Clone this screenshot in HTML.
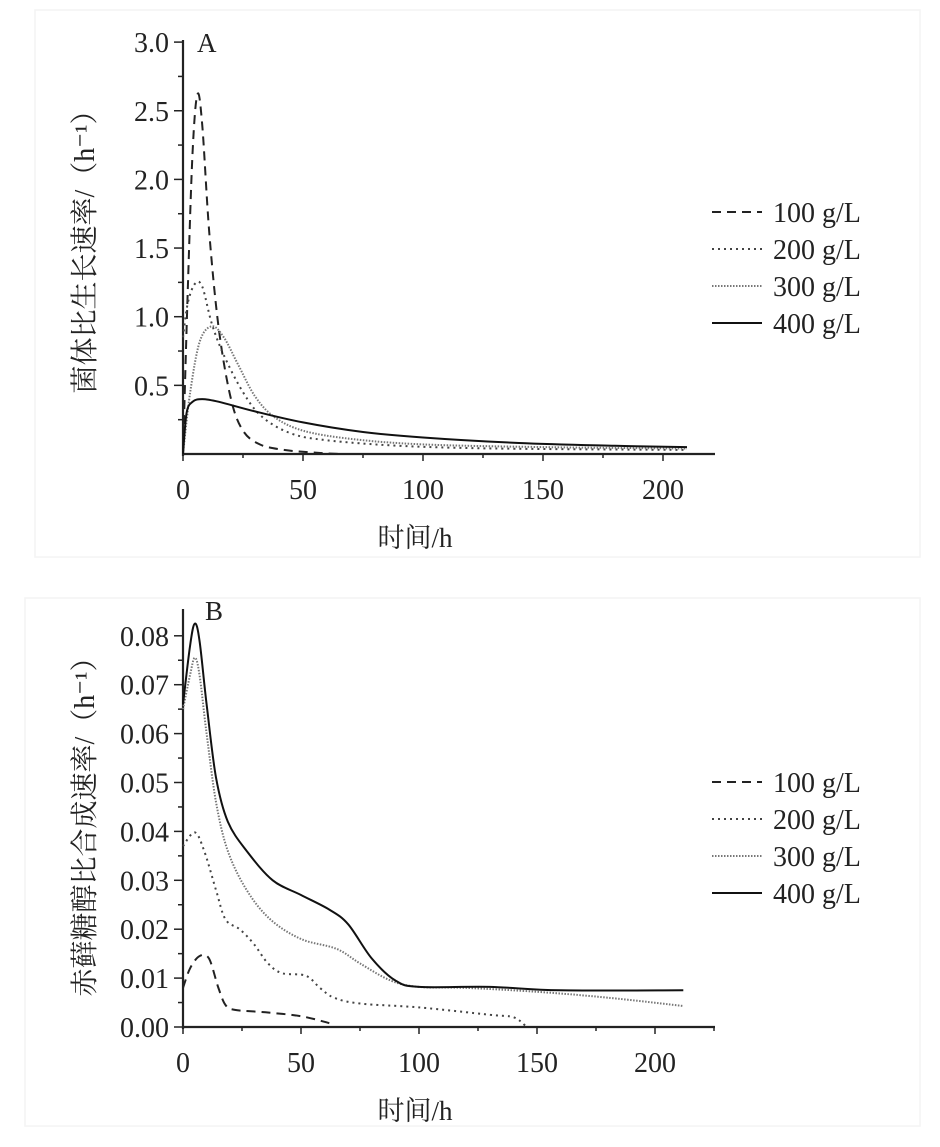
<!DOCTYPE html>
<html><head><meta charset="utf-8"><style>
html,body{margin:0;padding:0;background:#fff;}
svg{display:block;font-family:"Liberation Serif","Noto Serif CJK SC",serif;}
</style></head><body>
<svg id="s" width="940" height="1147" viewBox="0 0 940 1147" xmlns="http://www.w3.org/2000/svg">
<rect x="0" y="0" width="940" height="1147" fill="#fff"/>
<rect x="35" y="10" width="885" height="547" fill="none" stroke="#f4f4f4" stroke-width="1.5"/>
<rect x="25" y="598" width="895" height="528" fill="none" stroke="#f4f4f4" stroke-width="1.5"/>
<g id="g" fill="#222" stroke="#222"></g>
</svg>
<script>
const g=document.getElementById('g');
function el(t,a,txt){const e=document.createElementNS('http://www.w3.org/2000/svg',t);for(const k in a)e.setAttribute(k,a[k]);if(txt!==undefined)e.textContent=txt;g.appendChild(e);return e;}
function cr(pts){let d='M'+pts[0][0].toFixed(1)+','+pts[0][1].toFixed(1);
 for(let i=0;i<pts.length-1;i++){const p0=pts[i-1]||pts[i],p1=pts[i],p2=pts[i+1],p3=pts[i+2]||p2;
 const c1=[p1[0]+(p2[0]-p0[0])/6,p1[1]+(p2[1]-p0[1])/6],c2=[p2[0]-(p3[0]-p1[0])/6,p2[1]-(p3[1]-p1[1])/6];
 d+=' C'+c1.map(v=>v.toFixed(1))+' '+c2.map(v=>v.toFixed(1))+' '+p2.map(v=>v.toFixed(1));}return d;}
const styles={
 100:{stroke:'#222','stroke-width':2,'stroke-dasharray':'9,6'},
 200:{stroke:'#444','stroke-width':2,'stroke-dasharray':'2,4'},
 300:{stroke:'#777','stroke-width':2,'stroke-dasharray':'1.5,1.5'},
 400:{stroke:'#111','stroke-width':2}};
function panel(o){
 const X=t=>o.x0+t*o.px, Y=v=>o.y0-v*o.py;
 el('line',{x1:o.x0,y1:o.y0,x2:o.xend,y2:o.y0,'stroke-width':2.2,fill:'none'});
 el('line',{x1:o.x0,y1:o.y0+2,x2:o.x0,y2:o.ytop,'stroke-width':2.2,fill:'none'});
 for(let t=0;t<=o.xmax;t+=25){el('line',{x1:X(t),y1:o.y0,x2:X(t),y2:o.y0+(t%50?4:7),'stroke-width':1.5});}
 for(let t=0;t<=200;t+=50)el('text',{x:X(t),y:o.y0+45,'font-size':28,'text-anchor':'middle',stroke:'none'},t);
 o.yt.forEach(([v,lab,major])=>{el('line',{x1:o.x0,y1:Y(v),x2:o.x0-(major?9:5),y2:Y(v),'stroke-width':1.5});
   if(lab)el('text',{x:o.x0-14,y:Y(v)+10,'font-size':28,'text-anchor':'end',stroke:'none'},lab);});
 el('text',{x:415,y:o.y0+93,'font-size':27,'text-anchor':'middle',stroke:'none'},'时间/h');
 el('text',{x:0,y:0,'font-size':28,'text-anchor':'middle',stroke:'none',transform:`translate(${o.tx},${o.ty}) rotate(-90)`},o.title);
 el('text',{x:o.lx,y:o.ly,'font-size':27,stroke:'none'},o.letter);
 for(const k in o.series){const a=Object.assign({d:cr(o.series[k].map(([t,v])=>[X(t),Y(v)])),fill:'none'},styles[k]);el('path',a);}
 ['100','200','300','400'].forEach((k,i)=>{const y=o.legy+i*o.legdy;
   el('line',Object.assign({x1:712,y1:y,x2:762,y2:y},styles[k]));
   el('text',{x:773,y:y+10,'font-size':28,stroke:'none'},k+' g/L');});
}
panel({x0:183,y0:454,px:2.4,py:137.3,xend:715,ytop:40,xmax:215,
 yt:[[3,'3.0',1],[2.75,'',0],[2.5,'2.5',1],[2.25,'',0],[2,'2.0',1],[1.75,'',0],[1.5,'1.5',1],[1.25,'',0],[1,'1.0',1],[0.75,'',0],[0.5,'0.5',1],[0.25,'',0]],
 title:'菌体比生长速率/（h⁻¹）',tx:94,ty:245,letter:'A',lx:197,ly:52,legy:212,legdy:37,
 series:{
 100:[[0,0],[2,1.2],[4,2.2],[6,2.62],[8,2.4],[11,1.6],[15,0.9],[20,0.4],[25,0.17],[32,0.07],[42,0.03],[55,0.01],[65,0.0]],
 200:[[0,0.85],[2,1.1],[5,1.24],[8,1.22],[12,0.95],[17,0.72],[25,0.45],[33,0.27],[45,0.15],[60,0.1],[90,0.06],[130,0.04],[210,0.03]],
 300:[[0,0],[3,0.45],[7,0.82],[12,0.93],[17,0.85],[23,0.65],[30,0.42],[38,0.27],[50,0.17],[70,0.11],[100,0.07],[150,0.05],[210,0.04]],
 400:[[0,0],[1.5,0.3],[4,0.38],[8,0.4],[15,0.38],[30,0.31],[50,0.23],[75,0.16],[100,0.12],[140,0.08],[180,0.06],[210,0.05]]}});
panel({x0:183,y0:1027,px:2.36,py:4890,xend:715,ytop:609,xmax:225,
 yt:[[0.08,'0.08',1],[0.075,'',0],[0.07,'0.07',1],[0.065,'',0],[0.06,'0.06',1],[0.055,'',0],[0.05,'0.05',1],[0.045,'',0],[0.04,'0.04',1],[0.035,'',0],[0.03,'0.03',1],[0.025,'',0],[0.02,'0.02',1],[0.015,'',0],[0.01,'0.01',1],[0.005,'',0],[0,'0.00',1]],
 title:'赤藓糖醇比合成速率/（h⁻¹）',tx:94,ty:820,letter:'B',lx:205,ly:620,legy:782,legdy:37,
 series:{
 100:[[0,0.008],[3,0.012],[7,0.0145],[11,0.014],[15,0.008],[18,0.0045],[22,0.0035],[35,0.003],[50,0.0022],[62,0.0008]],
 200:[[0,0.037],[5,0.0398],[9,0.036],[14,0.028],[18,0.022],[24,0.02],[30,0.017],[36,0.013],[42,0.011],[52,0.0105],[58,0.008],[64,0.006],[75,0.0048],[100,0.004],[130,0.0025],[140,0.002],[145,0.0003]],
 300:[[0,0.065],[3,0.072],[5,0.0755],[7,0.072],[10,0.06],[14,0.046],[19,0.036],[27,0.028],[37,0.022],[50,0.018],[65,0.016],[75,0.013],[88,0.0095],[100,0.0082],[120,0.008],[150,0.0072],[180,0.006],[212,0.0043]],
 400:[[0,0.066],[3,0.078],[5,0.0825],[7,0.079],[10,0.066],[14,0.051],[19,0.042],[27,0.036],[38,0.03],[50,0.027],[62,0.024],[70,0.021],[80,0.014],[90,0.0095],[100,0.0082],[130,0.0082],[160,0.0075],[212,0.0075]]}});
</script>
</body></html>
